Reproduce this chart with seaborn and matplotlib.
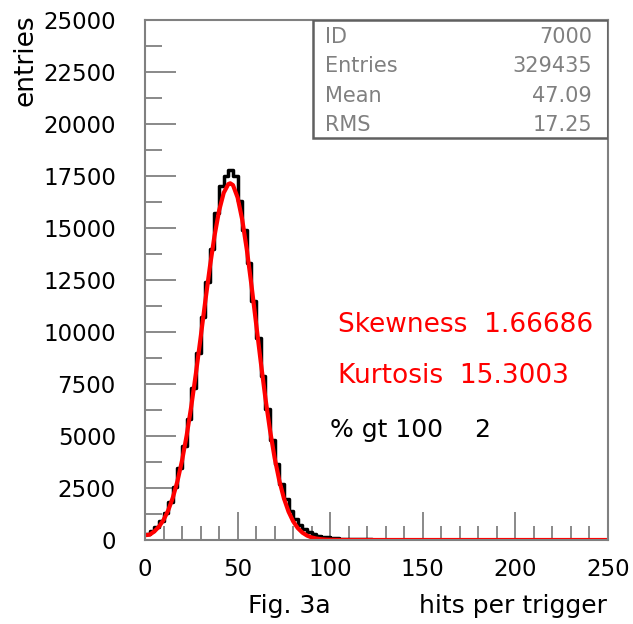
#histograma de hits por trigger com ajuste gaussiano (estilo PAW)

import pandas as pd
import seaborn as sns
import matplotlib.pyplot as plt
from matplotlib.patches import Rectangle
from matplotlib.ticker import MultipleLocator

# conteudo dos bins (largura 2.5, de 0 a 250)
bin_edges = [i * 2.5 for i in range(101)]
counts = [300, 420, 620, 900, 1300, 1850, 2550, 3450, 4500, 5800,
          7300, 9000, 10700, 12400, 14000, 15700, 17000, 17500, 17800, 17500,
          16300, 14900, 13300, 11500, 9700, 7900, 6300, 4800, 3650, 2700,
          1950, 1400, 1000, 720, 520, 380, 280, 210, 160, 125,
          100, 80, 65, 55, 45, 40, 35, 30, 27, 24,
          22, 20, 18, 16, 15, 14, 13, 12, 11, 10,
          10, 9, 9, 8, 8, 7, 7, 6, 6, 6,
          5, 5, 5, 4, 4, 4, 4, 3, 3, 3,
          3, 3, 2, 2, 2, 2, 2, 2, 1, 1,
          1, 1, 1, 1, 1, 1, 1, 1, 1, 1]

# curva do ajuste
fit_x = [0, 2.5, 5, 7.5, 10, 12.5, 15, 17.5, 20, 22.5,
         25, 27.5, 30, 32.5, 35, 37.5, 40, 42.5, 45, 46,
         47.5, 50, 52.5, 55, 57.5, 60, 62.5, 65, 67.5, 70,
         72.5, 75, 77.5, 80, 82.5, 85, 87.5, 90, 92.5, 95,
         97.5, 100, 105, 110, 250]
fit_y = [230, 256, 409, 637, 962, 1417, 2028, 2821, 3818, 5027,
         6437, 8016, 9710, 11440, 13106, 14607, 15831, 16689, 17112, 17150,
         17064, 16465, 15397, 13948, 12238, 10402, 8563, 6827, 5274, 3945,
         2860, 2007, 1365, 898, 573, 354, 212, 123, 69, 37,
         20, 10, 3, 0, 0]

stats_labels = ['ID', 'Entries', 'Mean', 'RMS']
stats_values = ['7000', '329435', '47.09', '17.25']

sns.set_theme(style='white')
plt.rcParams['font.family'] = ['DejaVu Sans']

centers = [(bin_edges[i] + bin_edges[i + 1]) / 2 for i in range(len(counts))]
df = pd.DataFrame({'hits': centers, 'n': counts})

fig = plt.figure(figsize=(6.33, 6.24), dpi=100)
ax = fig.add_axes([145/633, 1 - 540/624, 463/633, 520/624])

sns.histplot(data=df, x='hits', weights='n', bins=bin_edges, element='step',
             fill=False, color='black', linewidth=2.5, ax=ax)
sns.lineplot(x=fit_x, y=fit_y, color='red', linewidth=3.0, ax=ax)

ax.set_xlim(0, 250)
ax.set_ylim(0, 25000)

gray = '#808080'
for s in ax.spines.values():
    s.set_color(gray)
    s.set_linewidth(1.5)

ax.xaxis.set_major_locator(MultipleLocator(50))
ax.xaxis.set_minor_locator(MultipleLocator(10))
ax.yaxis.set_major_locator(MultipleLocator(2500))
ax.yaxis.set_minor_locator(MultipleLocator(1250))
ax.tick_params(axis='both', which='both', direction='in', color=gray, width=1.3,
               labelsize=16.5, labelcolor='black', bottom=True, left=True)
ax.tick_params(axis='x', which='major', length=20, pad=13)
ax.tick_params(axis='x', which='minor', length=10)
ax.tick_params(axis='y', which='major', length=22, pad=21)
ax.tick_params(axis='y', which='minor', length=12)

ax.set_xlabel('')
ax.set_ylabel('')
fig.text(25/633, 1 - 14/624, 'entries', rotation=90, ha='center', va='top',
         fontsize=19, color='black')
fig.text(248/633, 1 - 606/624, 'Fig. 3a', ha='left', va='center', fontsize=18, color='black')
fig.text(607/633, 1 - 606/624, 'hits per trigger', ha='right', va='center',
         fontsize=18, color='black')

# caixa de estatisticas
x0 = (313 - 145) / 463
y0 = (540 - 138) / 520
ax.add_patch(Rectangle((x0, y0), 1 - x0, 1 - y0, transform=ax.transAxes,
                       fill=False, edgecolor='#606060', linewidth=1.8, zorder=5))
rows_y = [37, 66, 96, 125]
for lab, val, yp in zip(stats_labels, stats_values, rows_y):
    fig.text(325/633, 1 - yp/624, lab, ha='left', va='center', fontsize=15, color='#808080')
    fig.text(592/633, 1 - yp/624, val, ha='right', va='center', fontsize=15, color='#808080')

fig.text(338/633, 1 - 325/624, 'Skewness  1.66686', ha='left', va='center', fontsize=19, color='red')
fig.text(338/633, 1 - 376/624, 'Kurtosis  15.3003', ha='left', va='center', fontsize=19, color='red')
fig.text(330/633, 1 - 430/624, '% gt 100    2', ha='left', va='center', fontsize=18, color='black')

fig.savefig('out.png', dpi=100)
